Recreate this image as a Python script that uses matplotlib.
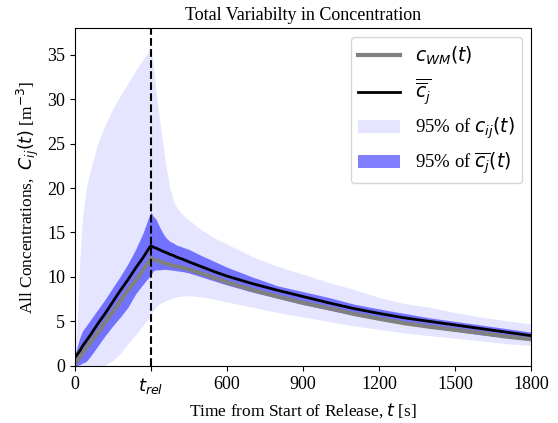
import numpy as np
import matplotlib
matplotlib.use('Agg')
import matplotlib.pyplot as plt

plt.rcParams['font.family'] = ['Liberation Serif', 'DejaVu Serif']
plt.rcParams['mathtext.fontset'] = 'dejavusans'

# time samples [s]
t = [0, 10, 20, 30, 45, 60, 90, 120, 150, 180, 210, 240, 270, 290, 300,
     310, 320, 335, 350, 360, 375, 390, 400, 425, 450, 500, 550, 600, 700, 800, 900, 1000,
     1100, 1200, 1300, 1400, 1500, 1600, 1700, 1800]

# mean of the per-realisation means (black)
c_mean = [0.9, 1.3, 1.7, 2.2, 2.8, 3.4, 4.7, 5.9, 7.2, 8.5, 9.7, 11.0, 12.2, 13.1, 13.5,
          13.35, 13.25, 13.05, 12.85, 12.75, 12.55, 12.4, 12.25, 12.0, 11.7, 11.15, 10.6, 10.1,
          9.25, 8.5, 7.8, 7.1, 6.45, 5.9, 5.4, 5.0, 4.6, 4.2, 3.8, 3.4]

# well-mixed concentration (gray)
c_wm = [0.2, 0.6, 1.0, 1.4, 2.0, 2.6, 3.7, 4.9, 6.1, 7.3, 8.5, 9.6, 10.8, 11.6, 12.1,
        12.0, 11.9, 11.75, 11.6, 11.5, 11.4, 11.25, 11.2, 11.05, 10.85, 10.4, 9.9, 9.4,
        8.55, 7.8, 7.1, 6.5, 5.85, 5.3, 4.8, 4.4, 4.05, 3.7, 3.3, 3.0]

# 95% band of the mean
cj_lo = [0.0, 0.05, 0.15, 0.3, 0.5, 1.0, 2.2, 3.4, 4.5, 5.5, 6.6, 8.1, 9.2, 9.9, 10.2,
         10.7, 10.8, 10.8, 10.85, 10.85, 10.8, 10.75, 10.7, 10.6, 10.45, 10.0, 9.55, 9.1,
         8.3, 7.6, 6.9, 6.3, 5.7, 5.2, 4.7, 4.3, 3.9, 3.5, 3.2, 2.9]
cj_hi = [1.1, 2.2, 3.2, 3.9, 4.5, 5.1, 6.3, 7.5, 8.8, 10.1, 11.5, 13.1, 15.0, 16.6, 17.3,
         16.8, 16.5, 15.6, 14.8, 14.4, 14.0, 13.8, 13.6, 13.35, 13.1, 12.4, 11.75, 11.1,
         10.0, 9.0, 8.35, 7.7, 6.95, 6.4, 5.9, 5.4, 5.0, 4.6, 4.2, 3.8]

# 95% band of all concentrations
cij_lo = [0.0, 0.0, 0.0, 0.0, 0.0, 0.0, 0.0, 0.1, 0.6, 1.4, 2.5, 3.5, 4.6, 5.3, 5.7,
          6.2, 6.6, 7.0, 7.2, 7.35, 7.5, 7.65, 7.75, 7.85, 7.9, 7.75, 7.5, 7.2,
          6.6, 6.0, 5.5, 5.0, 4.5, 4.1, 3.7, 3.4, 3.1, 2.8, 2.5, 2.3]
cij_hi = [0.3, 5.0, 12.0, 16.5, 20.0, 21.8, 25.0, 27.1, 28.9, 30.4, 31.8, 33.2, 34.5, 35.3, 35.7,
          33.8, 31.0, 27.5, 24.5, 22.4, 20.0, 18.5, 17.9, 17.0, 16.4, 15.3, 14.4, 13.7,
          12.3, 11.2, 10.3, 9.4, 8.6, 7.7, 7.0, 6.6, 6.0, 5.5, 5.1, 4.7]

t_rel = 300

fig = plt.figure(figsize=(5.58, 4.23), dpi=100)
ax = fig.add_axes([0.134, 0.135, 0.818, 0.799])

ax.fill_between(t, cij_lo, cij_hi, color='blue', alpha=0.1, lw=0,
                label=r'95% of $c_{ij}(t)$')
ax.fill_between(t, cj_lo, cj_hi, color='blue', alpha=0.5, lw=0,
                label=r'95% of $\overline{c_j}(t)$')
ax.plot(t, c_wm, color='gray', lw=3, label=r'$c_{WM}(t)$')
ax.plot(t, c_mean, color='black', lw=2, label=r'$\overline{\overline{c}_j}$')
ax.axvline(t_rel, color='black', ls='--', lw=1.5)

ax.set_xlim(0, 1800)
ax.set_ylim(0, 38)
ax.set_xticks([0, 300, 600, 900, 1200, 1500, 1800])
ax.set_xticklabels(['0', r'$t_{rel}$', '600', '900', '1200', '1500', '1800'])
ax.set_yticks(np.arange(0, 36, 5))
ax.tick_params(labelsize=13)

ax.set_title('Total Variabilty in Concentration', fontsize=13)
ax.set_xlabel(r'Time from Start of Release, $t$ [s]', fontsize=12.5)
ax.set_ylabel(r'All Concentrations,  $C_{ij}(t)$ [m$^{-3}$]', fontsize=12.5)

handles, labels = ax.get_legend_handles_labels()
order = [2, 3, 0, 1]
ax.legend([handles[i] for i in order], [labels[i] for i in order],
          loc='upper right', fontsize=13.5, handlelength=2.2)

fig.savefig('out.png', dpi=100)
